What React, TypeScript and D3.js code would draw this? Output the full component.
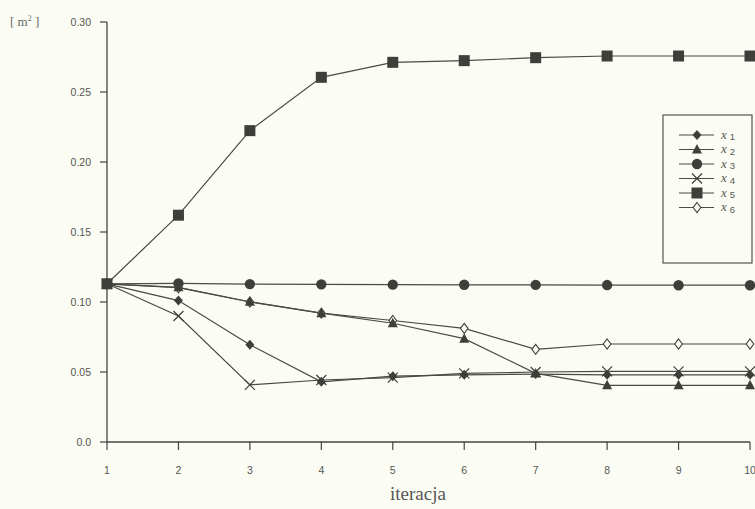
import React from "react";
import * as d3 from "d3";

const iterations = [1, 2, 3, 4, 5, 6, 7, 8, 9, 10];
const yTicks = [0.0, 0.05, 0.1, 0.15, 0.2, 0.25, 0.3];
const yTickLabels = ["0.0", "0.05", "0.10", "0.15", "0.20", "0.25", "0.30"];

const x1 = [0.113, 0.101, 0.0695, 0.043, 0.047, 0.048, 0.0485, 0.048, 0.048, 0.048];
const x2 = [0.113, 0.1105, 0.1002, 0.092, 0.0848, 0.0738, 0.049, 0.0405, 0.0405, 0.0405];
const x3 = [0.113, 0.1133, 0.1128, 0.1126, 0.1124, 0.1123, 0.1122, 0.1121, 0.112, 0.112];
const x4 = [0.113, 0.09, 0.0408, 0.0443, 0.046, 0.049, 0.05, 0.0505, 0.0505, 0.0505];
const x5 = [0.113, 0.162, 0.2224, 0.2605, 0.2712, 0.2724, 0.2745, 0.2757, 0.2757, 0.2757];
const x6 = [0.113, 0.1102, 0.1, 0.092, 0.0868, 0.0812, 0.0662, 0.07, 0.07, 0.07];

const seriesNames = ["1", "2", "3", "4", "5", "6"];
const seriesValues = [x1, x2, x3, x4, x5, x6];
const markerTypes = ["diamond", "triangle", "circle", "cross", "square", "openDiamond"];
const drawOrder = [5, 0, 1, 3, 2, 4];

const W = 755;
const H = 509;
const LINE = "#4a4a46";
const MARK = "#3e3e3a";
const BG = "#fbfdf4";

function Marker({ type, cx, cy }: { type: string; cx: number; cy: number }) {
  switch (type) {
    case "diamond":
      return <path d={`M${cx},${cy - 5}L${cx + 4.5},${cy}L${cx},${cy + 5}L${cx - 4.5},${cy}Z`} fill={MARK} />;
    case "triangle":
      return <path d={`M${cx},${cy - 5.5}L${cx + 5},${cy + 4}L${cx - 5},${cy + 4}Z`} fill={MARK} />;
    case "circle":
      return <circle cx={cx} cy={cy} r={5.2} fill={MARK} />;
    case "cross":
      return (
        <path
          d={`M${cx - 5},${cy - 5}L${cx + 5},${cy + 5}M${cx - 5},${cy + 5}L${cx + 5},${cy - 5}`}
          stroke={MARK}
          strokeWidth={1.2}
          fill="none"
        />
      );
    case "square":
      return <rect x={cx - 5.5} y={cy - 5.5} width={11} height={11} fill={MARK} />;
    case "openDiamond":
      return (
        <path
          d={`M${cx},${cy - 5}L${cx + 3.8},${cy}L${cx},${cy + 5}L${cx - 3.8},${cy}Z`}
          fill={BG}
          stroke={MARK}
          strokeWidth={1.1}
        />
      );
    default:
      return null;
  }
}

export default function App() {
  const xScale = d3.scaleLinear().domain([1, 10]).range([107, 750]);
  const yScale = d3.scaleLinear().domain([0, 0.3]).range([442, 22]);
  const line = d3
    .line<number>()
    .x((_, i) => xScale(iterations[i]))
    .y((d) => yScale(d));

  const legendX = 663;
  const legendY = 115;
  const legendRows = [135, 149.5, 164, 178.5, 193, 207.5];

  return (
    <svg width={W} height={H} style={{ position: "absolute", left: 0, top: 0, background: BG }}>
      <rect x={0} y={0} width={W} height={H} fill={BG} />
      {/* axes */}
      <line x1={107} x2={107} y1={yScale(0.3)} y2={yScale(0)} stroke="#444" strokeWidth={1.3} />
      <line x1={107} x2={xScale(10)} y1={442} y2={442} stroke="#444" strokeWidth={1.3} />
      {yTicks.map((t, i) => (
        <g key={"y" + i}>
          <line x1={100} x2={107} y1={yScale(t)} y2={yScale(t)} stroke="#444" strokeWidth={1.2} />
          <text
            x={91}
            y={yScale(t)}
            dy="0.35em"
            textAnchor="end"
            fontFamily="Liberation Sans, Arial, sans-serif"
            fontSize={10.5}
            fill="#555551"
          >
            {yTickLabels[i]}
          </text>
        </g>
      ))}
      {iterations.map((t) => (
        <g key={"x" + t}>
          <line x1={xScale(t)} x2={xScale(t)} y1={442} y2={450} stroke="#444" strokeWidth={1.2} />
          <text
            x={xScale(t)}
            y={470}
            dy="0.35em"
            textAnchor="middle"
            fontFamily="Liberation Sans, Arial, sans-serif"
            fontSize={10.5}
            fill="#555551"
          >
            {t}
          </text>
        </g>
      ))}
      <text x={10} y={26} fontFamily="Liberation Serif, DejaVu Serif, serif" fontSize={13} fill="#666">
        [ m<tspan dy={-5} fontSize={8}>2</tspan>
        <tspan dy={5}> ]</tspan>
      </text>
      <text
        x={418}
        y={500}
        textAnchor="middle"
        fontFamily="Liberation Serif, DejaVu Serif, serif"
        fontSize={19}
        fill="#555"
      >
        iteracja
      </text>

      {/* series lines */}
      {seriesValues.map((vals, si) => (
        <path key={"l" + si} d={line(vals) || ""} fill="none" stroke={LINE} strokeWidth={1.2} />
      ))}
      {drawOrder.map((si) => (
        <g key={"m" + si}>
          {seriesValues[si].map((v, i) => (
            <Marker key={i} type={markerTypes[si]} cx={xScale(iterations[i])} cy={yScale(v)} />
          ))}
        </g>
      ))}

      {/* legend */}
      <rect x={legendX} y={legendY} width={89} height={148} fill={BG} stroke="#555" strokeWidth={1.2} />
      {seriesNames.map((n, i) => (
        <g key={"lg" + i}>
          <line x1={679} x2={714} y1={legendRows[i]} y2={legendRows[i]} stroke={LINE} strokeWidth={1.2} />
          <Marker type={markerTypes[i]} cx={697} cy={legendRows[i]} />
          <text x={721} y={legendRows[i] + 3.5} fill="#555">
            <tspan fontFamily="Liberation Serif, DejaVu Serif, serif" fontStyle="italic" fontSize={13}>
              x
            </tspan>
            <tspan dx={3} dy={1.5} fontFamily="Liberation Sans, Arial, sans-serif" fontSize={9.5}>
              {n}
            </tspan>
          </text>
        </g>
      ))}
    </svg>
  );
}
